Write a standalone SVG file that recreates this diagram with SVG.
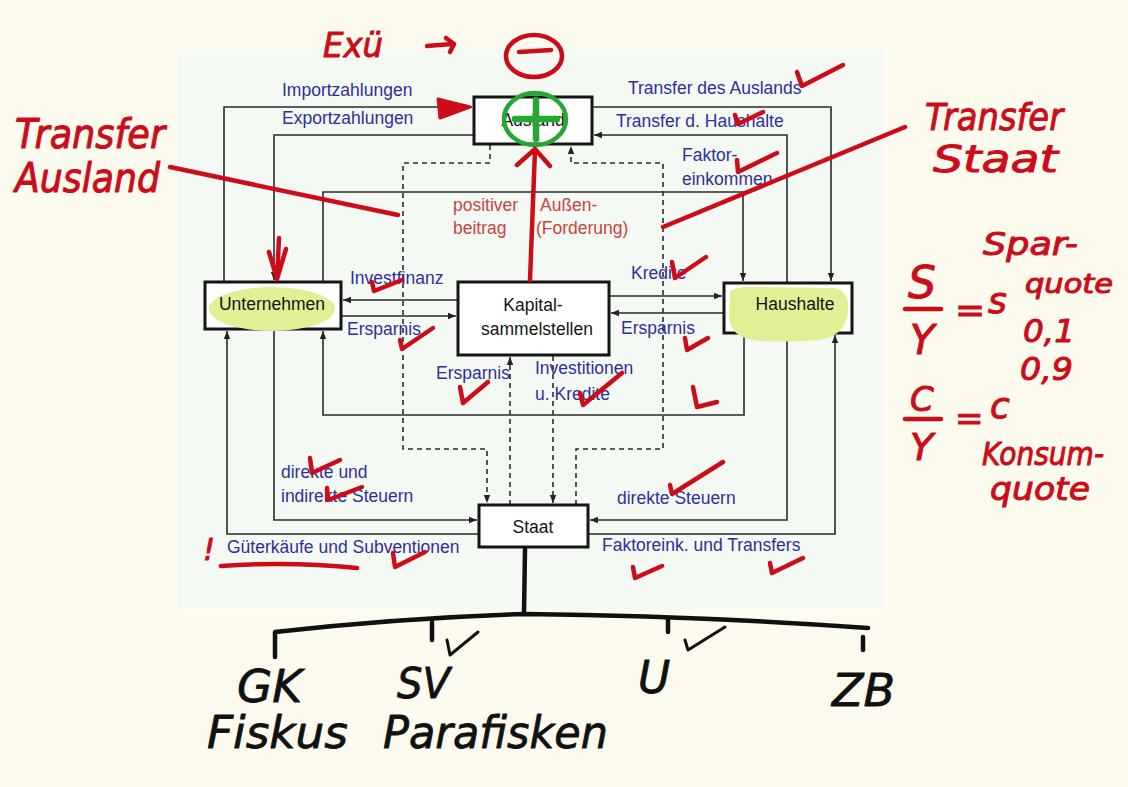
<svg xmlns="http://www.w3.org/2000/svg" width="1128" height="787" viewBox="0 0 1128 787">
<style>
.lbl{font-family:"Liberation Sans",Arial,sans-serif;font-size:17.5px;fill:#2f2f9c}
.nt{font-family:"Liberation Sans",Arial,sans-serif;font-size:17.5px;fill:#141414;text-anchor:middle}
.rt{font-family:"Liberation Sans",Arial,sans-serif;font-size:17.5px;fill:#c94440}
.box{fill:#ffffff;stroke:#151515;stroke-width:3}
.ln{fill:none;stroke:#2a2a2a;stroke-width:1.6}
.ds{stroke-dasharray:5 4}
.hw{font-family:"DejaVu Sans",sans-serif;font-style:italic;fill:#cc0c18;stroke:#cc0c18;stroke-width:1;stroke-linejoin:round}
.hk{font-family:"DejaVu Sans",sans-serif;font-style:italic;fill:#111;stroke:#111;stroke-width:0.8;stroke-linejoin:round}
.rs{fill:none;stroke:#cc0c18;stroke-width:4.5;stroke-linecap:round;stroke-linejoin:round}
.ks{fill:none;stroke:#111;stroke-width:4.5;stroke-linecap:round;stroke-linejoin:round}
.hl{fill:#e1ef95}
</style>
<defs>
<marker id="ah" viewBox="0 0 10 10" refX="10" refY="5" markerWidth="8" markerHeight="8" markerUnits="userSpaceOnUse" orient="auto"><path d="M0,1 L10,5 L0,9 z" fill="#222"/></marker>
</defs>
<rect x="0" y="0" width="1128" height="787" fill="#fdfbee"/>
<rect x="177" y="50" width="706" height="559" fill="#f4f9f4"/>

<g id="connectors">
<path class="ln" d="M224,281 V107 H472" marker-end="url(#ah)"/>
<path class="ln" d="M474,135 H274 V280" marker-end="url(#ah)"/>
<path class="ln" d="M323,281 V192 H743 V281" marker-end="url(#ah)"/>
<path class="ln" d="M592,107 H831 V281" marker-end="url(#ah)"/>
<path class="ln" d="M787,282 V135 H594" marker-end="url(#ah)"/>
<path class="ln" d="M457,300 H343" marker-end="url(#ah)"/>
<path class="ln" d="M341,316 H456" marker-end="url(#ah)"/>
<path class="ln" d="M609,296 H722" marker-end="url(#ah)"/>
<path class="ln" d="M724,313 H611" marker-end="url(#ah)"/>
<path class="ln" d="M744,334 V415 H323 V331" marker-end="url(#ah)"/>
<path class="ln" d="M274,330 V520 H477" marker-end="url(#ah)"/>
<path class="ln" d="M479,534 H227 V331" marker-end="url(#ah)"/>
<path class="ln" d="M787,334 V520 H590" marker-end="url(#ah)"/>
<path class="ln" d="M588,534 H835 V335" marker-end="url(#ah)"/>
<path class="ln ds" d="M490,145 V163 H403 V449 H487 V503" marker-end="url(#ah)"/>
<path class="ln ds" d="M576,505 V449 H663 V163 H571 V146" marker-end="url(#ah)"/>
<path class="ln ds" d="M510,505 V357" marker-end="url(#ah)"/>
<path class="ln ds" d="M553,356 V503" marker-end="url(#ah)"/>
</g>

<g id="node-ausland">
<rect class="box" x="474" y="97" width="118" height="47"/>
<text class="nt" x="533" y="126">Ausland</text>
</g>
<g id="node-unternehmen">
<rect class="box" x="205" y="282" width="136" height="47"/>
<ellipse class="hl" cx="272" cy="309" rx="63" ry="22"/>
<text class="nt" x="272" y="310">Unternehmen</text>
</g>
<g id="node-kapital">
<rect class="box" x="458" y="282" width="151" height="73"/>
<text class="nt" x="533" y="311">Kapital-</text>
<text class="nt" x="537" y="335">sammelstellen</text>
</g>
<g id="node-haushalte">
<rect class="box" x="724" y="283" width="128" height="50"/>
<path class="hl" d="M730,292 Q735,286 760,287 L835,288 Q850,292 848,312 Q846,335 820,340 Q760,344 745,338 Q728,332 729,312 Z"/>
<text class="nt" x="795" y="310">Haushalte</text>
</g>
<g id="node-staat">
<rect class="box" x="479" y="505" width="109" height="42"/>
<text class="nt" x="533" y="533">Staat</text>
</g>

<g id="labels">
<text class="lbl" x="282" y="96">Importzahlungen</text>
<text class="lbl" x="282" y="124">Exportzahlungen</text>
<text class="lbl" x="628" y="94">Transfer des Auslands</text>
<text class="lbl" x="616" y="127">Transfer d. Haushalte</text>
<text class="lbl" x="682" y="161">Faktor-</text>
<text class="lbl" x="682" y="185">einkommen</text>
<text class="rt" x="453" y="211">positiver</text>
<text class="rt" x="540" y="211">Außen-</text>
<text class="rt" x="453" y="234">beitrag</text>
<text class="rt" x="536" y="234">(Forderung)</text>
<text class="lbl" x="350" y="284">Investfinanz</text>
<text class="lbl" x="347" y="335">Ersparnis</text>
<text class="lbl" x="631" y="279">Kredite</text>
<text class="lbl" x="621" y="334">Ersparnis</text>
<text class="lbl" x="436" y="379">Ersparnis</text>
<text class="lbl" x="535" y="374">Investitionen</text>
<text class="lbl" x="535" y="400">u. Kredite</text>
<text class="lbl" x="281" y="478">direkte und</text>
<text class="lbl" x="281" y="502">indirekte Steuern</text>
<text class="lbl" x="227" y="553">Güterkäufe und Subventionen</text>
<text class="lbl" x="617" y="504">direkte Steuern</text>
<text class="lbl" x="602" y="551">Faktoreink. und Transfers</text>
</g>

<g id="annotations">
<ellipse cx="535" cy="119" rx="31" ry="26" fill="none" stroke="#24a832" stroke-width="4.5"/>
<path d="M536,100 V139 M515,119 H557" fill="none" stroke="#24a832" stroke-width="6.5" stroke-linecap="round"/>
<path class="rs" d="M530,280 L535,150 M517,165 L535,149 L550,166"/>
<path d="M438,99 L470,107 L440,118 Z" fill="#cc0c18" stroke="#cc0c18" stroke-width="3" stroke-linejoin="round"/>
<path class="rs" d="M279,238 L277,279 M269,252 L277,279 L286,249"/>
<path class="rs" d="M170,167 L398,215"/>
<path class="rs" d="M663,227 L905,127"/>
<text class="hw" x="323" y="57" font-size="34" textLength="60" lengthAdjust="spacingAndGlyphs">Exü</text>
<path class="rs" d="M427,46 L452,44 M446,38 L454,44 L450,52"/>
<ellipse cx="534" cy="56" rx="28" ry="21" fill="none" stroke="#cc0c18" stroke-width="4.5"/>
<path class="rs" d="M519,52 L551,50"/>
<text class="hw" x="15" y="148" font-size="40" textLength="150" lengthAdjust="spacingAndGlyphs">Transfer</text>
<text class="hw" x="15" y="192" font-size="40" textLength="145" lengthAdjust="spacingAndGlyphs">Ausland</text>
<text class="hw" x="925" y="130" font-size="38" textLength="138" lengthAdjust="spacingAndGlyphs">Transfer</text>
<text class="hw" x="933" y="172" font-size="38" textLength="125" lengthAdjust="spacingAndGlyphs">Staat</text>
<text class="hw" x="908" y="298" font-size="44">S</text>
<path class="rs" d="M905,309 H941"/>
<text class="hw" x="910" y="354" font-size="40">Y</text>
<text class="hw" x="955" y="322" font-size="36">=</text>
<text class="hw" x="988" y="313" font-size="36">s</text>
<text class="hw" x="983" y="255" font-size="32" textLength="95" lengthAdjust="spacingAndGlyphs">Spar-</text>
<text class="hw" x="1025" y="293" font-size="26" textLength="88" lengthAdjust="spacingAndGlyphs">quote</text>
<text class="hw" x="1023" y="342" font-size="32" textLength="52" lengthAdjust="spacingAndGlyphs">0,1</text>
<text class="hw" x="1020" y="380" font-size="32" textLength="53" lengthAdjust="spacingAndGlyphs">0,9</text>
<text class="hw" x="910" y="411" font-size="34">C</text>
<path class="rs" d="M905,419 H941"/>
<text class="hw" x="910" y="460" font-size="38">Y</text>
<text class="hw" x="955" y="430" font-size="34">=</text>
<text class="hw" x="990" y="418" font-size="36">c</text>
<text class="hw" x="982" y="465" font-size="32" textLength="122" lengthAdjust="spacingAndGlyphs">Konsum-</text>
<text class="hw" x="990" y="500" font-size="32" textLength="100" lengthAdjust="spacingAndGlyphs">quote</text>
<text class="hw" x="203" y="560" font-size="30">!</text>
<path class="rs" d="M221,566 Q290,561 357,568"/>
<path class="rs" d="M797,72 L802,86 L843,65"/>
<path class="rs" d="M735,115 L738,124 L763,112"/>
<path class="rs" d="M737,160 L738,172 L777,153"/>
<path class="rs" d="M372,282 L374,291 L402,280"/>
<path class="rs" d="M400,340 L402,349 L433,328"/>
<path class="rs" d="M460,387 L463,403 L488,382"/>
<path class="rs" d="M580,393 L583,405 L622,373"/>
<path class="rs" d="M672,262 L675,278 L706,257"/>
<path class="rs" d="M685,338 L687,350 L708,338"/>
<path class="rs" d="M693,387 L697,407 L717,402"/>
<path class="rs" d="M310,458 L312,473 L340,460"/>
<path class="rs" d="M327,488 L328,500 L362,487"/>
<path class="rs" d="M393,553 L395,567 L425,552"/>
<path class="rs" d="M670,485 L672,494 L723,462"/>
<path class="rs" d="M633,567 L635,578 L662,566"/>
<path class="rs" d="M770,563 L772,573 L803,558"/>
</g>

<g id="staat-gliederung">
<path class="ks" d="M525,549 L524,614"/>
<path class="ks" d="M275,657 V632 Q400,618 525,614 Q700,616 868,628"/>
<path class="ks" d="M432,622 V640 M668,618 V632 M863,637 V650"/>
<path fill="none" stroke="#111" stroke-width="3" stroke-linecap="round" stroke-linejoin="round" d="M447,640 L450,655 L478,632 M685,640 L688,650 L725,627"/>
<text class="hk" x="237" y="702" font-size="44" textLength="65" lengthAdjust="spacingAndGlyphs">GK</text>
<text class="hk" x="397" y="698" font-size="42" textLength="53" lengthAdjust="spacingAndGlyphs">SV</text>
<text class="hk" x="638" y="693" font-size="44">U</text>
<text class="hk" x="832" y="706" font-size="44" textLength="63" lengthAdjust="spacingAndGlyphs">ZB</text>
<text class="hk" x="207" y="748" font-size="44" textLength="141" lengthAdjust="spacingAndGlyphs">Fiskus</text>
<text class="hk" x="383" y="748" font-size="44" textLength="225" lengthAdjust="spacingAndGlyphs">Parafisken</text>
</g>
</svg>
